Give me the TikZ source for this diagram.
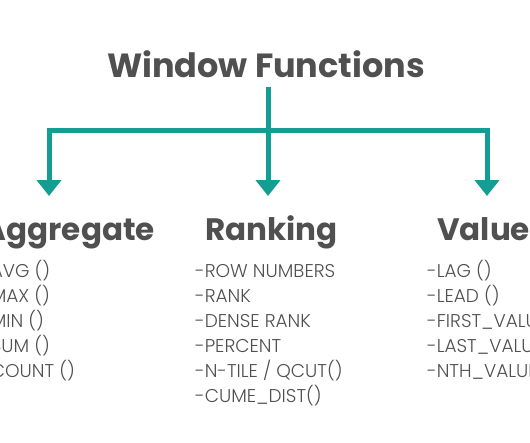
\documentclass[tikz,border=0pt]{standalone}
\usepackage{fontspec}
\setmainfont{Poppins}
\newfontfamily\titlefont{Poppins}[UprightFont=* Bold]
\newfontfamily\listfont{Poppins}[UprightFont=* Light]
\usetikzlibrary{arrows.meta}
\definecolor{teal}{HTML}{149E93}
\definecolor{ink}{HTML}{505050}
\begin{document}
\begin{tikzpicture}[x=1pt,y=-1pt,
  ttl/.style={inner sep=0pt, text=ink, font=\titlefont\fontsize{33.5}{34}\selectfont},
  head/.style={inner sep=0pt, text=ink, font=\titlefont\fontsize{31}{32}\selectfont},
  items/.style={inner sep=0pt, text=ink, align=left, font=\listfont\fontsize{18.5}{25}\selectfont},
  conn/.style={draw=teal, line width=5pt, line join=miter},
  tip/.style={-{Triangle[width=24pt,length=16pt]}}]
\useasboundingbox (0,0) rectangle (530,442);
\clip (0,0) rectangle (530,442);
\fill[white] (0,0) rectangle (530,442);
\node[ttl, anchor=base] (title) at (266,77) {Window Functions};
\node[head, anchor=base east] (agg) at (155,240) {Aggregate};
\node[head, anchor=base west] (rank) at (205,240) {Ranking};
\node[head, anchor=base west] (val) at (437,240) {Value};
\node[items, anchor=base west] (agglist) at (-19,377) {-AVG ()\\-MAX ()\\-MIN ()\\-SUM ()\\-COUNT ()};
\node[items, anchor=base west] (ranklist) at (195,402) {-ROW NUMBERS\\-RANK\\-DENSE RANK\\-PERCENT\\-N-TILE / QCUT()\\-CUME\_DIST()};
\node[items, anchor=base west] (vallist) at (427,377) {-LAG ()\\-LEAD ()\\-FIRST\_VALUE ()\\-LAST\_VALUE ()\\-NTH\_VALUE ()};
\coordinate (stem) at (268,87);
\coordinate (hub) at (268,130);
\coordinate (aggtip) at (49,196);
\coordinate (ranktip) at (268,196);
\coordinate (valtip) at (487,196);
\draw[conn] (stem) -- (hub);
\draw[conn, tip] (hub) -| (aggtip);
\draw[conn, tip] (stem) -- (ranktip);
\draw[conn, tip] (hub) -| (valtip);
\end{tikzpicture}
\end{document}
